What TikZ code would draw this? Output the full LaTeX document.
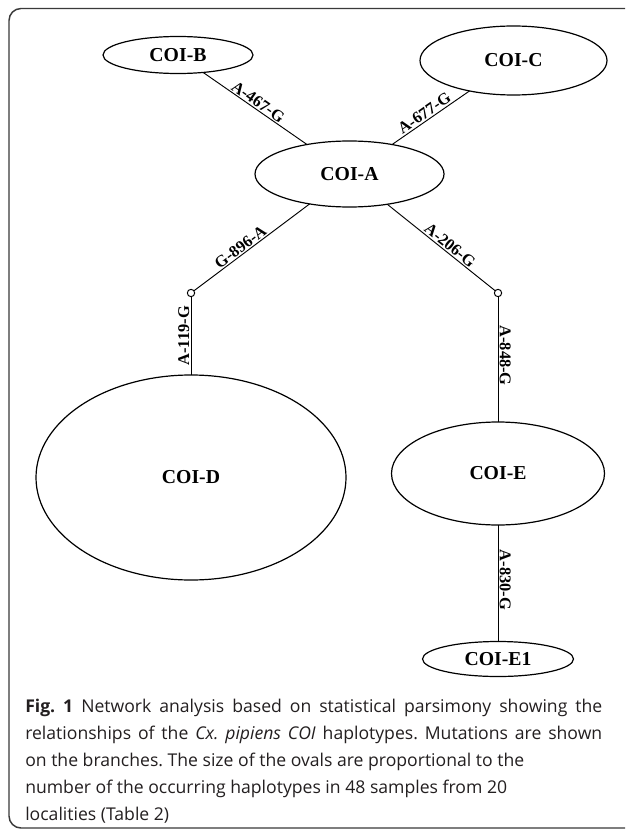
\documentclass[tikz,border=0pt]{standalone}
\usepackage{fontspec}
\setmainfont{Liberation Serif}
\newfontfamily\capfont{Open Sans}
\usetikzlibrary{shapes.geometric}
\definecolor{framegray}{HTML}{3A3A3A}
\definecolor{captext}{HTML}{231F20}
\tikzset{
  hap/.style={draw=black, line width=0.9pt, ellipse, inner sep=0pt, outer sep=0pt,
    font=\fontsize{14.8}{16}\selectfont\bfseries},
  knot/.style={draw=black, line width=0.75pt, circle, fill=white, inner sep=0pt,
    minimum size=5.5pt, outer sep=0pt},
  branch/.style={draw=black, line width=0.7pt},
  mut/.style={font=\fontsize{12.3}{13}\selectfont\bfseries, inner sep=1pt},
  capline/.style={anchor=base west, inner sep=0pt, text=captext,
    font=\capfont\fontsize{13.2}{16}\selectfont\frenchspacing}
}
\begin{document}
\begin{tikzpicture}[x=0.75pt,y=-0.75pt]
\clip (0,0) rectangle (625,831);
\fill[white] (0,0) rectangle (625,831);
% frame
\draw[framegray, line width=1.1pt, rounded corners=9] (660,8.5) -- (9,8.5) -- (9,828) -- (660,828);

% haplotype ovals
\node[hap, minimum width=150*0.75pt, minimum height=37*0.75pt] (B) at (178,55) {COI-B};
\node[hap, minimum width=187*0.75pt, minimum height=69*0.75pt] (C) at (513.5,60.5) {COI-C};
\node[hap, minimum width=189*0.75pt, minimum height=66*0.75pt] (A) at (349.5,174) {COI-A};
\node[hap, minimum width=310*0.75pt, minimum height=205*0.75pt] (D) at (191,477.5) {COI-D};
\node[hap, minimum width=213*0.75pt, minimum height=103*0.75pt] (E) at (498,473.5) {COI-E};
\node[hap, minimum width=151*0.75pt, minimum height=35*0.75pt] (E1) at (498,659) {COI-E1};

% missing intermediate haplotypes
\node[knot] (kL) at (191,293) {};
\node[knot] (kR) at (498,293) {};

% branches with mutations
\draw[branch] (B) -- node[mut, sloped, above, pos=0.49] {A-467-G} (A);
\draw[branch] (A) -- node[mut, sloped, above, pos=0.47] {A-677-G} (C);
\draw[branch] (kL) -- node[mut, sloped, above, pos=0.44] {G-896-A} (A);
\draw[branch] (A) -- node[mut, sloped, above, pos=0.54] {A-206-G} (kR);
\draw[branch] (kL) -- node[mut, rotate=90, anchor=south, pos=0.5] {A-119-G} (D);
\draw[branch] (kR) -- node[mut, rotate=-90, anchor=south, pos=0.47] {A-848-G} (E);
\draw[branch] (E) -- node[mut, rotate=-90, anchor=south, pos=0.47] {A-830-G} (E1);

% caption
\node[capline] (cap1) at (25,712) {\makebox[432.75pt][s]{\textbf{Fig. 1} Network analysis based on statistical parsimony showing the}};
\node[capline] (cap2) at (25,739) {\makebox[432.75pt][s]{relationships of the \textit{Cx. pipiens COI} haplotypes. Mutations are shown}};
\node[capline] (cap3) at (25,766) {on the branches. The size of the ovals are proportional to the};
\node[capline] (cap4) at (25,793) {number of the occurring haplotypes in 48 samples from 20};
\node[capline] (cap5) at (25,820) {localities (Table 2)};
\end{tikzpicture}
\end{document}
